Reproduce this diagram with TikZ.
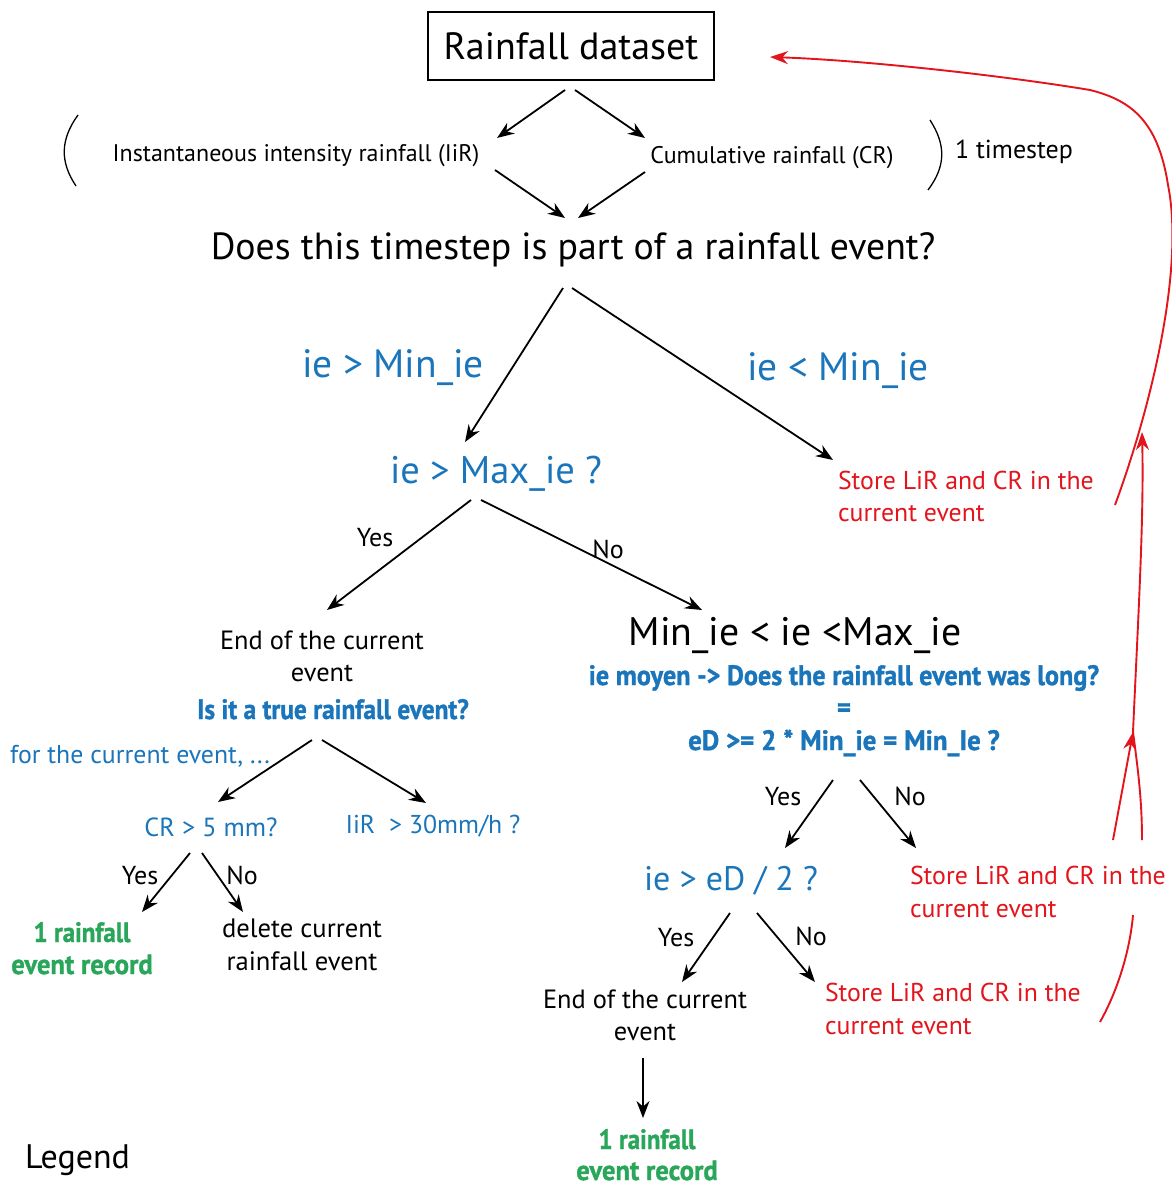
\documentclass[tikz,border=0pt]{standalone}
\usepackage{fontspec}
\setmainfont{PT Sans}
\newfontfamily\heavyfont[FakeBold=1.2]{PT Sans Bold}
\usetikzlibrary{arrows.meta}
\definecolor{myblue}{RGB}{26,117,187}
\definecolor{myred}{RGB}{227,20,27}
\definecolor{mygreen}{RGB}{42,166,90}
\newcommand{\fs}[1]{\fontsize{#1}{#1}\selectfont}
\newcommand{\cond}[2]{\scalebox{#1}[1]{#2}}
\tikzset{
  lbl/.style={inner sep=0pt, outer sep=0pt, anchor=base},
  lblw/.style={inner sep=0pt, outer sep=0pt, anchor=base west},
  blk/.style={lbl, text=black},
  blu/.style={lbl, text=myblue},
  redt/.style={lblw, text=myred, font=\fs{25.8}},
  grn/.style={lbl, text=mygreen, font=\heavyfont\fs{28}},
  bbold/.style={lbl, text=myblue, font=\heavyfont\fs{28}},
  yn/.style={blk, font=\fs{26}},
  arr/.style={-{Stealth[length=17pt,width=13pt]}, line width=1.8pt, black},
  rarr/.style={-{Stealth[length=18pt,width=13pt]}, line width=1.9pt, myred},
  rline/.style={line width=1.9pt, myred},
  paren/.style={line width=1.3pt, black}
}
\begin{document}
\begin{tikzpicture}[x=1pt,y=-1pt]
\useasboundingbox (0,0) rectangle (1172,1186);
% top box
\node[draw, line width=1.8pt, minimum width=286pt, minimum height=68pt, inner sep=0pt, font=\fs{38}] (ds) at (571,46) {Rainfall dataset};
\node[blk, font=\fs{24}] (iir) at (296,161) {Instantaneous intensity rainfall (IiR)};
\node[blk, font=\fs{24}] (cr) at (772,163) {Cumulative rainfall (CR)};
\node[blk, font=\fs{26}] (ts) at (1014,158) {1 timestep};
\node[blk, font=\fs{37.8}] (q1) at (573,259) {Does this timestep is part of a rainfall event?};
% parens
\coordinate (pl1) at (78,115); \coordinate (pl2) at (76,186);
\draw[paren] (pl1) .. controls (60,140) and (60,162) .. (pl2);
\coordinate (pr1) at (930,120); \coordinate (pr2) at (928,190);
\draw[paren] (pr1) .. controls (946,145) and (946,166) .. (pr2);
% arrows top
\coordinate (a1s) at (565,90); \coordinate (a1e) at (497,138);
\coordinate (a2s) at (575,90); \coordinate (a2e) at (645,138);
\coordinate (a3s) at (495,170); \coordinate (a3e) at (565,218);
\coordinate (a4s) at (645,172); \coordinate (a4e) at (578,218);
\draw[arr] (a1s) -- (a1e);
\draw[arr] (a2s) -- (a2e);
\draw[arr] (a3s) -- (a3e);
\draw[arr] (a4s) -- (a4e);
% level 2
\node[blu, font=\fs{39.5}] (gtmin) at (393,377) {ie > Min\_ie};
\node[blu, font=\fs{39.5}] (ltmin) at (838,380) {ie < Min\_ie};
\coordinate (b1s) at (563,288); \coordinate (b1e) at (465,442);
\coordinate (b2s) at (572,288); \coordinate (b2e) at (833,460);
\draw[arr] (b1s) -- (b1e);
\draw[arr] (b2s) -- (b2e);
\node[blu, font=\fs{38.5}] (gtmax) at (496,483) {ie > Max\_ie ?};
\node[redt] (st1a) at (838,489) {Store LiR and CR in the};
\node[redt] (st1b) at (838,521) {current event};
% level 3
\coordinate (c1s) at (471,500); \coordinate (c1e) at (327,610);
\coordinate (c2s) at (481,500); \coordinate (c2e) at (702,610);
\draw[arr] (c1s) -- (c1e);
\draw[arr] (c2s) -- (c2e);
\node[yn] (y1) at (375,546) {Yes};
\node[yn] (n1) at (608,558) {No};
\node[blk, font=\fs{26.4}] (end1a) at (322,649) {End of the current};
\node[blk, font=\fs{26.4}] (end1b) at (322,681) {event};
\node[bbold] (true) at (333,719) {\cond{0.905}{Is it a true rainfall event?}};
\node[blk, font=\fs{39.8}] (mid) at (795,645) {Min\_ie < ie <Max\_ie};
\node[bbold] (moy) at (844,685) {\cond{0.935}{ie moyen -> Does the rainfall event was long?}};
\node[bbold] (eq) at (844,717) {\cond{0.95}{=}};
\node[bbold] (ed) at (844,750) {\cond{0.96}{eD >= 2 * Min\_ie = Min\_Ie ?}};
% left branch
\node[blu, font=\fs{25.8}] (fce) at (140,763) {for the current event, ...};
\coordinate (d1s) at (312,740); \coordinate (d1e) at (218,802);
\coordinate (d2s) at (322,740); \coordinate (d2e) at (426,803);
\draw[arr] (d1s) -- (d1e);
\draw[arr] (d2s) -- (d2e);
\node[blu, font=\fs{26.2}] (cr5) at (211,836) {CR > 5 mm?};
\node[blu, font=\fs{25.8}] (iir30) at (433,833) {IiR\ \ > 30mm/h ?};
\coordinate (e1s) at (190,853); \coordinate (e1e) at (142,912);
\coordinate (e2s) at (202,853); \coordinate (e2e) at (243,912);
\draw[arr] (e1s) -- (e1e);
\draw[arr] (e2s) -- (e2e);
\node[yn] (y2) at (140,884) {Yes};
\node[yn] (n2) at (242,884) {No};
\node[grn] (rec1a) at (82,942) {\cond{0.89}{1 rainfall}};
\node[grn] (rec1b) at (82,974) {\cond{0.95}{event record}};
\node[blk, font=\fs{26.6}] (del1) at (302,937) {delete current};
\node[blk, font=\fs{26.6}] (del2) at (302,970) {rainfall event};
% right branch
\coordinate (f1s) at (833,780); \coordinate (f1e) at (785,848);
\coordinate (f2s) at (860,780); \coordinate (f2e) at (916,848);
\draw[arr] (f1s) -- (f1e);
\draw[arr] (f2s) -- (f2e);
\node[yn] (y3) at (783,805) {Yes};
\node[yn] (n3) at (910,805) {No};
\node[blu, font=\fs{34}] (ied) at (731,890) {ie > eD / 2 ?};
\node[redt] (st2a) at (910,884) {Store LiR and CR in the};
\node[redt] (st2b) at (910,917) {current event};
\coordinate (g1s) at (730,913); \coordinate (g1e) at (682,982);
\coordinate (g2s) at (757,913); \coordinate (g2e) at (815,982);
\draw[arr] (g1s) -- (g1e);
\draw[arr] (g2s) -- (g2e);
\node[yn] (y4) at (676,946) {Yes};
\node[yn] (n4) at (811,945) {No};
\node[blk, font=\fs{26.4}] (end2a) at (645,1008) {End of the current};
\node[blk, font=\fs{26.4}] (end2b) at (645,1040) {event};
\node[redt] (st3a) at (825,1001) {Store LiR and CR in the};
\node[redt] (st3b) at (825,1034) {current event};
\coordinate (h1s) at (643,1058); \coordinate (h1e) at (643,1118);
\draw[arr] (h1s) -- (h1e);
\node[grn] (rec2a) at (647,1149) {\cond{0.89}{1 rainfall}};
\node[grn] (rec2b) at (647,1180) {\cond{0.95}{event record}};
\node[lblw, font=\fs{34}] (leg) at (25,1168) {Legend};
% red feedback
\coordinate (r3s) at (1100,1022); \coordinate (r3e) at (1133,915);
\draw[rline] (r3s) .. controls (1118,990) and (1130,950) .. (r3e);
\coordinate (r2a) at (1113,840); \coordinate (r2b) at (1142,840);
\coordinate (rj) at (1133,732); \coordinate (rk) at (1142,432);
\draw[rarr] (r2a) -- (rj);
\draw[rline] (r2b) .. controls (1142,800) and (1138,770) .. (rj);
\draw[rarr] (rj) .. controls (1138,620) and (1144,520) .. (rk);
\coordinate (r1s) at (1115,505); \coordinate (rt) at (770,57);
\draw[rarr] (r1s) .. controls (1150,410) and (1185,270) .. (1168,185) .. controls (1158,120) and (1130,100) .. (1090,90) .. controls (1000,75) and (860,60) .. (rt);
\end{tikzpicture}
\end{document}
